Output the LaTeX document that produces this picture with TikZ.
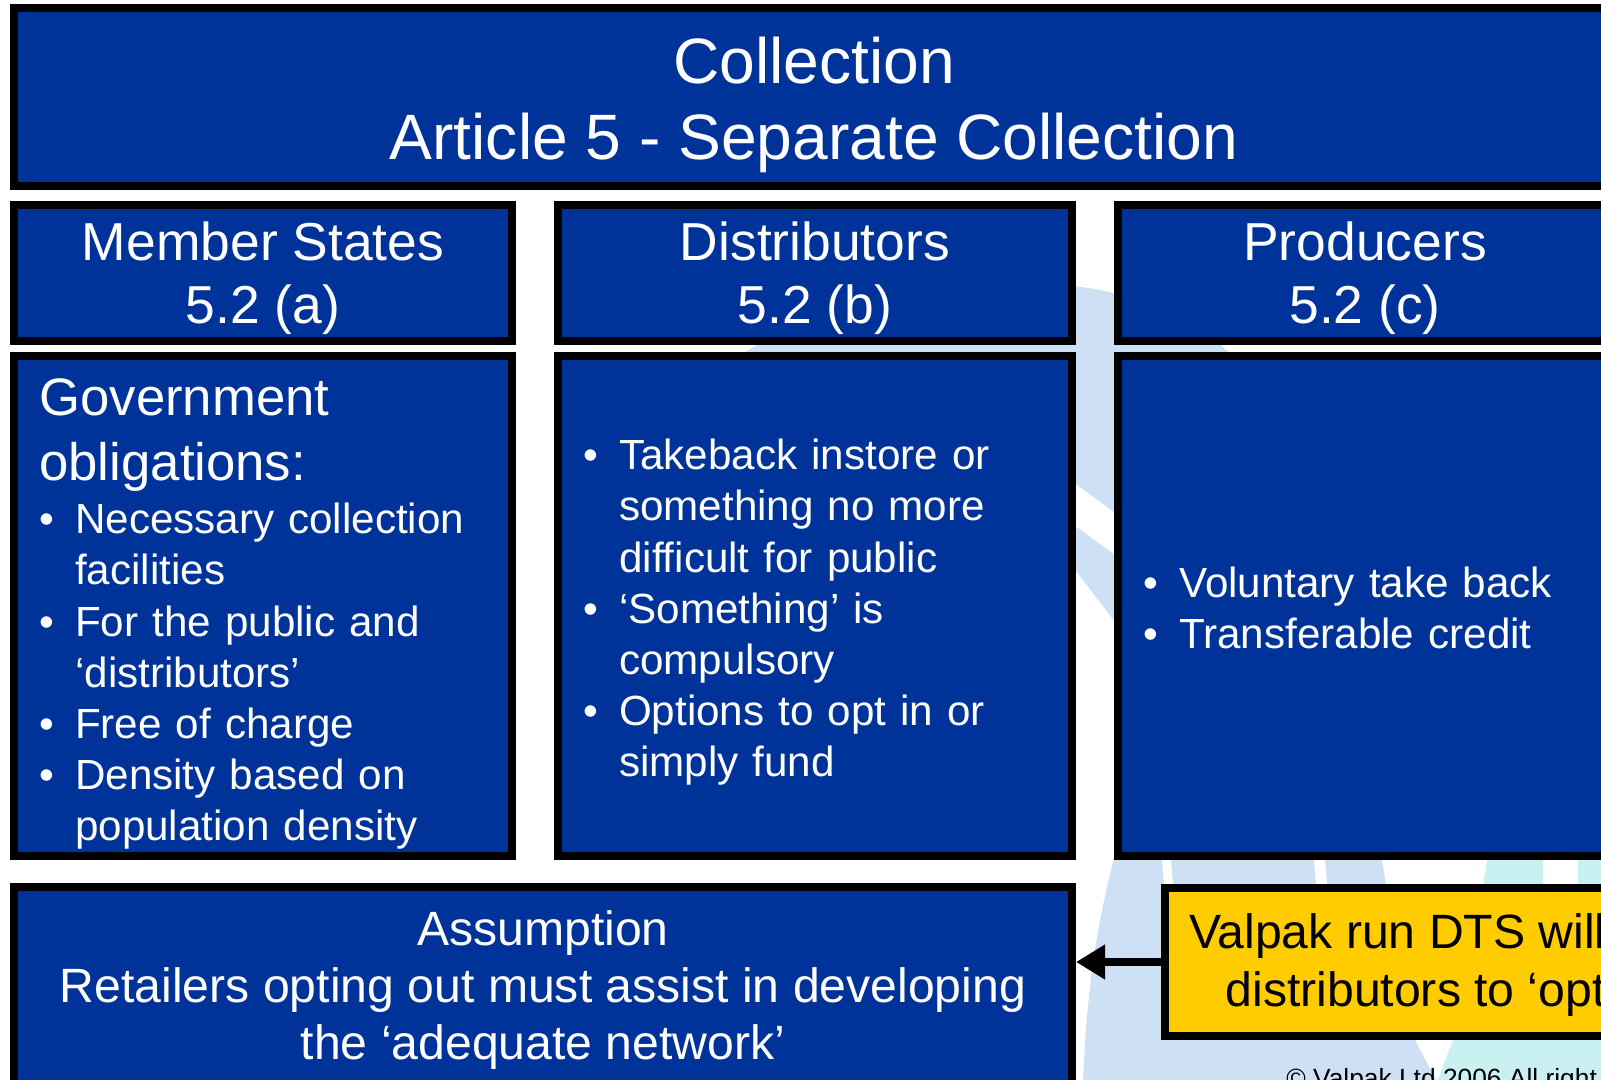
\documentclass[tikz,border=0pt]{standalone}
\usepackage{fontspec}
\setmainfont{Liberation Sans}
\usetikzlibrary{arrows.meta}
\definecolor{boxblue}{HTML}{003399}
\definecolor{notegold}{HTML}{FFCC00}
\definecolor{swirlblue}{HTML}{CEE0F4}
\definecolor{swirlcyan}{HTML}{C9F1F1}
\newcommand{\bpoint}[1]{\par\hangindent=20.4pt\hangafter=1\noindent\makebox[20.4pt][l]{\textbullet}#1\par}

\begin{document}
\begin{tikzpicture}[x=0.2mm, y=-0.2mm,
    panel/.style={draw=black, line width=1.6mm, fill=boxblue, inner sep=0pt},
    headtext/.style={text=white, align=center, inner sep=0pt, font=\fontsize{30.4}{35.7}\selectfont},
    bodytext/.style={text=white, anchor=west, align=left, inner sep=0pt, font=\fontsize{24}{29.1}\selectfont}]
    \useasboundingbox (0,0) rectangle (1601,1079);
    \clip (0,0) rectangle (1601,1079);
    \fill[white] (0,0) rectangle (1601,1079);
    \fill[swirlblue] (745,352) .. controls (840,295) and (990,270) .. (1100,290)
        .. controls (1160,303) and (1200,325) .. (1232,355)
        -- (1240,620) -- (1114,512) -- (1076,484) -- (900,420) -- cycle;
    \fill[swirlblue] (1060,515) -- (1125,562) -- (1125,635) -- (1060,550) -- cycle;
    \fill[swirlblue] (1115,855) .. controls (1095,930) and (1086,1000) .. (1083,1085)
        -- (1437,1085) -- (1437,1082) -- (1415,1040)
        .. controls (1405,1000) and (1395,940) .. (1381,855) -- cycle;
    \fill[swirlcyan] (1488,855) .. controls (1475,940) and (1460,1010) .. (1453,1040)
        -- (1437,1082) -- (1437,1085) -- (1620,1085) -- (1620,855) -- cycle;
    \draw[white, line width=1.8mm] (1166,855) -- (1169,890);
    \draw[white, line width=2.2mm] (1319,855) -- (1322,890);
    \draw[white, line width=7mm] (1560,855) -- (1560,890);

    \node[panel, minimum width=320mm, minimum height=35.6mm] (title) at (814,97) {};
    \node[panel, minimum width=99.6mm, minimum height=27.2mm] (msHead) at (263,273) {};
    \node[panel, minimum width=102.8mm, minimum height=27.2mm] (distHead) at (815,273) {};
    \node[panel, minimum width=98.8mm, minimum height=27.2mm] (prodHead) at (1365,273) {};
    \node[panel, minimum width=99.6mm, minimum height=100mm] (msBody) at (263,606) {};
    \node[panel, minimum width=102.8mm, minimum height=100mm] (distBody) at (815,606) {};
    \node[panel, minimum width=98.8mm, minimum height=100mm] (prodBody) at (1365,606) {};
    \node[panel, minimum width=211.6mm, minimum height=39.8mm] (assume) at (543,986.5) {};
    \node[panel, fill=notegold, minimum width=92.4mm, minimum height=29.6mm] (valpak) at (1396,962) {};
    \draw[line width=1.6mm, -{Triangle[length=5.8mm, width=6.6mm]}]
        (valpak.west) -- (valpak.west -| assume.east);

    \node[text=white, align=center, inner sep=0pt, font=\fontsize{36.5}{43.6}\selectfont]
        (titleText) at (814,105) {Collection\\Article 5 - Separate Collection};
    \node[headtext] (msHeadText) at (263,278) {Member States\\5.2 (a)};
    \node[headtext] (distHeadText) at (815,278) {Distributors\\5.2 (b)};
    \node[headtext] (prodHeadText) at (1365,278) {Producers\\5.2 (c)};

    \node[bodytext, text width=89.6mm] (msText) at (39,614) {
        {\fontsize{30}{37}\selectfont Government\\obligations:\par}
        \vspace{1.2pt}
        \bpoint{Necessary collection\newline facilities}
        \bpoint{For the public and\newline ‘distributors’}
        \bpoint{Free of charge}
        \bpoint{Density based on\newline population density}
    };
    \node[bodytext, text width=92.8mm] (distText) at (583,602) {
        \bpoint{Takeback instore or\newline something no more\newline difficult for public}
        \bpoint{‘Something’ is\newline compulsory}
        \bpoint{Options to opt in or\newline simply fund}
    };
    \node[bodytext, text width=88.8mm] (prodText) at (1143,598) {
        \bpoint{Voluntary take back}
        \bpoint{Transferable credit}
    };

    \node[text=white, align=center, inner sep=0pt, font=\fontsize{27.4}{32.6}\selectfont]
        (assumeText) at (543,990)
        {Assumption\\Retailers opting out must assist in developing\\the ‘adequate network’};
    \node[anchor=east, align=right, inner sep=0pt, font=\fontsize{27.4}{32.6}\selectfont]
        (valpakText) at (1606,965) {Valpak run DTS will\\distributors to ‘opt};

    \node[anchor=base west, inner sep=0pt, font=\fontsize{15}{18}\selectfont] (copy)
        at (1286,1087) {© Valpak Ltd 2006 All right};
\end{tikzpicture}
\end{document}
